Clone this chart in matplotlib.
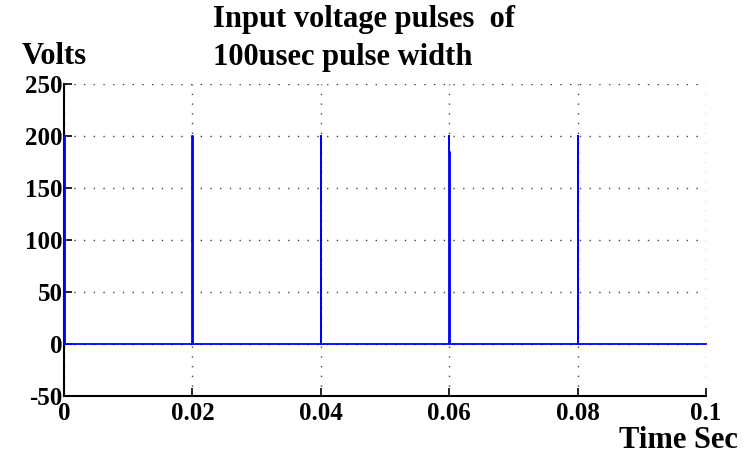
import matplotlib
matplotlib.use("Agg")
import matplotlib.pyplot as plt

# pulse waveform (time in s, voltage in V) - 100 usec pulses every 20 msec
time_s = [0.0, 0.0, 0.0001, 0.0001,
          0.02, 0.02, 0.0201, 0.0201,
          0.04, 0.04, 0.0401, 0.0401,
          0.06, 0.06, 0.06003, 0.06003, 0.0601, 0.0601,
          0.08, 0.08, 0.0801, 0.0801,
          0.1]
volts = [0, 200, 200, 0,
         0, 200, 200, 0,
         0, 200, 200, 0,
         0, 200, 200, 185, 185, 0,
         0, 200, 200, 0,
         0]

x_ticks = [0, 0.02, 0.04, 0.06, 0.08, 0.1]
x_labels = ["0", "0.02", "0.04", "0.06", "0.08", "0.1"]
y_ticks = [-50, 0, 50, 100, 150, 200, 250]

plt.rcParams['font.family'] = ['Liberation Serif', 'DejaVu Serif']
plt.rcParams['font.weight'] = 'bold'
plt.rcParams['axes.unicode_minus'] = False

fig = plt.figure(figsize=(7.44, 4.66), dpi=100)
ax = fig.add_axes([64 / 744, 70 / 466, 642 / 744, 312 / 466])

ax.plot(time_s, volts, color='#0000ff', linewidth=1.3, clip_on=False, zorder=3)

ax.set_xlim(0, 0.1)
ax.set_ylim(-50, 250)
ax.set_xticks(x_ticks)
ax.set_xticklabels(x_labels)
ax.set_yticks(y_ticks)
ax.tick_params(direction='in', length=6, width=1.2, labelsize=18, pad=1)
ax.tick_params(axis='x', pad=4)
for lbl in ax.get_xticklabels() + ax.get_yticklabels():
    lbl.set_fontweight('bold')

ax.spines['top'].set_visible(False)
ax.spines['right'].set_visible(False)
ax.spines['left'].set_linewidth(1.5)
ax.spines['bottom'].set_linewidth(1.5)

ax.grid(True, linestyle=(0, (1, 6)), color='#444444', linewidth=1.0)

fig.text(213 / 744, 1 - 20 / 466, "Input voltage pulses  of", fontsize=22,
         fontweight='bold', ha='left', va='center')
fig.text(213 / 744, 1 - 57 / 466, "100usec pulse width", fontsize=22,
         fontweight='bold', ha='left', va='center')
fig.text(22 / 744, 1 - 57 / 466, "Volts", fontsize=22,
         fontweight='bold', ha='left', va='center')
fig.text(738 / 744, 1 - 441 / 466, "Time Sec", fontsize=22,
         fontweight='bold', ha='right', va='center')

fig.savefig("out.png", dpi=100)
